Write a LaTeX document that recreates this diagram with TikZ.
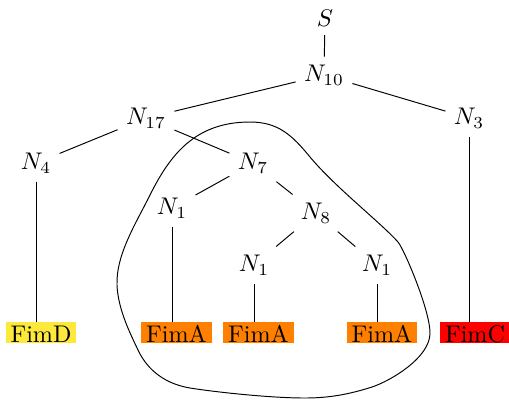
\documentclass[tikz,border=0pt]{standalone}
\usetikzlibrary{calc}
\definecolor{fimyellow}{RGB}{253,232,60}
\definecolor{fimorange}{RGB}{255,128,0}
\definecolor{fimred}{RGB}{255,0,0}
\begin{document}
\begin{tikzpicture}[x=0.415pt,y=-0.415pt,
  tn/.style={anchor=base,inner sep=3.33pt},
  leaf/.style={anchor=base,inner xsep=2pt,inner ysep=0pt,text height=8.3pt,text depth=0.4pt},
  edge/.style={line width=0.4pt}]
\useasboundingbox (0,0) rectangle (509,403);
\node[tn] (S) at (325,26.5) {$S$};
\node[tn] (N10) at (324,81.5) {$N_{10}$};
\node[tn] (N17) at (146,124.5) {$N_{17}$};
\node[tn] (N3) at (469,124.5) {$N_{3}$};
\node[tn] (N4) at (36,169.5) {$N_{4}$};
\node[tn] (N7) at (253,169.5) {$N_{7}$};
\node[tn] (N1a) at (172,214.5) {$N_{1}$};
\node[tn] (N8) at (316,219.5) {$N_{8}$};
\node[tn] (N1b) at (254,271.5) {$N_{1}$};
\node[tn] (N1c) at (377,271.5) {$N_{1}$};
\node[leaf,fill=fimyellow] (FimD) at (41,342) {FimD};
\node[leaf,fill=fimorange] (FimA1) at (176.5,342) {FimA};
\node[leaf,fill=fimorange] (FimA2) at (258.5,342) {FimA};
\node[leaf,fill=fimorange] (FimA3) at (382,342) {FimA};
\node[leaf,fill=fimred] (FimC) at (475,342) {FimC};
\draw[edge] (S) -- (N10);
\draw[edge] (N10) -- (N17);
\draw[edge] (N10) -- (N3);
\draw[edge] (N17) -- (N4);
\draw[edge] (N17) -- (N7);
\draw[edge] (N7) -- (N1a);
\draw[edge] (N7) -- (N8);
\draw[edge] (N8) -- (N1b);
\draw[edge] (N8) -- (N1c);
\draw[edge] (N4.south) -- (N4.south |- FimD.north);
\draw[edge] (N3.south) -- (N3.south |- FimC.north);
\draw[edge] (N1a.south) -- (N1a.south |- FimA1.north);
\draw[edge] (N1b.south) -- (N1b.south |- FimA2.north);
\draw[edge] (N1c.south) -- (N1c.south |- FimA3.north);
\draw[edge] (117,285)
  .. controls (116,255) and (135,225) .. (150,195)
  .. controls (170,155) and (195,122) .. (250,122)
  .. controls (278,122) and (292,135) .. (310,157)
  .. controls (335,187) and (380,222) .. (398,242)
  .. controls (404,249) and (430,310) .. (430,333)
  .. controls (430,358) and (390,381) .. (372,387)
  .. controls (350,394) and (330,398) .. (305,398)
  .. controls (270,398) and (215,392) .. (190,388)
  .. controls (160,383) and (145,365) .. (138,350)
  .. controls (131,335) and (118,310) .. (117,285) -- cycle;
\end{tikzpicture}
\end{document}
